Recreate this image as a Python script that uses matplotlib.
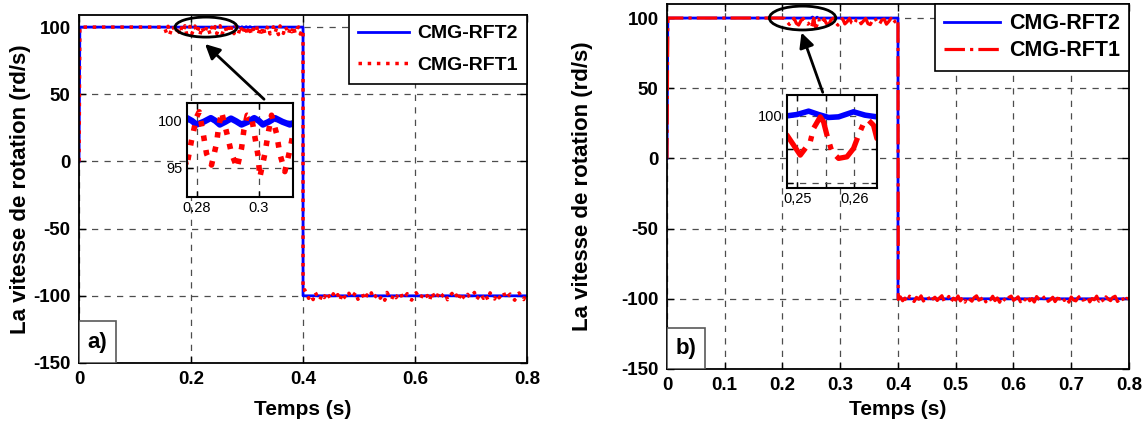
import numpy as np
import matplotlib
matplotlib.use("Agg")
import matplotlib.pyplot as plt
from matplotlib.patches import Ellipse, Rectangle

plt.rcParams['font.family'] = ['Liberation Sans', 'DejaVu Sans']
plt.rcParams['axes.unicode_minus'] = False

# ---------------- shared axis settings ----------------
y_ticks = [-150, -100, -50, 0, 50, 100]
a_x_ticks = [0, 0.2, 0.4, 0.6, 0.8]
b_x_ticks = [0, 0.1, 0.2, 0.3, 0.4, 0.5, 0.6, 0.7, 0.8]
series_names = ["CMG-RFT2", "CMG-RFT1"]
panel_tags = ["a)", "b)"]

# ---------------- panel a) : CMG-RFT2 ----------------
a_rft2_t = [0.0, 0.0015, 0.2740, 0.2768, 0.2784, 0.2799, 0.2822, 0.2845, 0.2860,
            0.2874, 0.2892, 0.2910, 0.2927, 0.2944, 0.2965, 0.2985, 0.3000, 0.3013,
            0.3032, 0.3052, 0.3076, 0.3100, 0.3130, 0.4, 0.4, 0.8]
a_rft2_y = [0.0, 100.0, 100.0, 100.3, 100.0, 99.6, 99.9, 100.3, 100.0,
            99.6, 99.9, 100.25, 99.95, 99.6, 99.9, 100.3, 100.0, 99.6,
            99.9, 100.3, 99.9, 99.6, 100.0, 100.0, -100.0, -100.0]

# ---------------- panel a) : CMG-RFT1 ----------------
a_rft1_start_t = [0.0, 0.0015, 0.150]
a_rft1_start_y = [0.0, 100.0, 100.0]
a_rft1_hi1_t0, a_rft1_hi1_dt = 0.153, 0.003
a_rft1_hi1 = [99.2, 95.8, 100.6, 94.7, 98.3, 100.9, 95.4, 97.2, 100.3, 94.4,
              99.5, 96.6, 101.0, 95.0, 98.0, 100.5, 94.6, 97.7, 100.8, 95.9,
              99.0, 94.3, 100.2, 97.1, 95.2, 100.7, 98.5, 94.8, 99.8, 96.3,
              100.4, 95.1, 98.8, 101.0, 94.5, 97.5, 100.1, 95.6, 99.3, 96.0,
              100.6]
a_rft1_zoom_t = [0.27668, 0.27829, 0.27990, 0.28075, 0.28204, 0.28312, 0.28473,
                 0.28635, 0.28688, 0.28796, 0.29010, 0.29119, 0.29300, 0.29442,
                 0.29516, 0.29623, 0.29765, 0.29871, 0.29978, 0.30032, 0.30194,
                 0.30300, 0.30409, 0.30571, 0.30677, 0.30839, 0.31000, 0.31106]
a_rft1_zoom_y = [95.1, 97.95, 100.4, 100.96, 98.65, 96.5, 95.3,
                 97.6, 99.0, 100.96, 98.1, 96.5, 95.0, 97.1,
                 99.0, 100.6, 100.4, 98.3, 96.2, 94.0, 96.5,
                 98.65, 100.6, 98.65, 96.5, 94.6, 96.9, 98.65]
a_rft1_hi2_t0, a_rft1_hi2_dt = 0.314, 0.003
a_rft1_hi2 = [97.4, 100.8, 94.6, 99.1, 96.2, 100.4, 95.0, 98.6, 101.0, 94.9,
              97.9, 100.2, 95.7, 99.6, 94.4, 100.9, 96.8, 95.3, 100.5, 98.2,
              94.7, 99.4, 96.5, 100.7, 95.2, 98.9, 100.1, 94.8, 97.3]
a_rft1_drop_t = [0.4, 0.4, 0.403]
a_rft1_drop_y = [98.0, -96.0, -95.5]
a_rft1_lo_t0, a_rft1_lo_dt = 0.406, 0.004
a_rft1_lo = [-98.2, -101.9, -99.4, -102.8, -97.6, -100.7, -103.1, -98.9, -101.3, -97.2,
             -100.2, -102.4, -98.5, -101.7, -99.1, -103.4, -97.9, -100.9, -102.1, -98.1,
             -101.5, -99.7, -97.4, -102.6, -100.4, -98.7, -103.0, -99.3, -101.1, -97.8,
             -102.2, -100.0, -98.3, -101.8, -99.6, -103.3, -97.5, -100.6, -102.7, -98.8,
             -101.4, -99.0, -97.3, -102.3, -100.8, -98.4, -101.6, -103.2, -99.5, -97.7,
             -100.3, -102.0, -98.6, -101.2, -99.8, -103.5, -97.1, -100.5, -102.5, -98.0,
             -101.0, -99.2, -97.9, -102.9, -100.1, -98.2, -101.7, -99.4, -103.1, -97.6,
             -100.8, -102.2, -98.9, -101.3, -99.9, -97.5, -102.6, -100.4, -98.4, -101.9,
             -99.1, -103.0, -97.8, -100.6, -102.4, -98.6, -101.5, -99.6, -97.3, -102.1,
             -100.2, -98.7, -101.1, -103.3, -99.3, -97.9, -100.9, -102.8, -98.3]

# ---------------- panel b) : CMG-RFT2 ----------------
b_rft2_t = [0.0, 0.0015, 0.2470, 0.24819, 0.24995, 0.25199, 0.25374, 0.25549,
            0.25725, 0.25988, 0.26193, 0.26398, 0.2660, 0.4, 0.4, 0.8]
b_rft2_y = [0.0, 100.0, 100.0, 100.0, 100.2, 100.7, 100.2, 99.76,
            99.85, 100.6, 100.1, 99.85, 100.0, 100.0, -100.0, -100.0]

# ---------------- panel b) : CMG-RFT1 ----------------
b_rft1_start_t = [0.0, 0.0015, 0.200]
b_rft1_start_y = [0.0, 100.0, 100.0]
b_rft1_hi1_t0, b_rft1_hi1_dt = 0.204, 0.004
b_rft1_hi1 = [99.6, 97.1, 95.4, 98.9, 99.8, 96.2, 95.0, 98.1, 99.7, 96.8, 95.6]
b_rft1_zoom_t = [0.24819, 0.25053, 0.25228, 0.25286, 0.25404, 0.25462, 0.25521,
                 0.25609, 0.25725, 0.25872, 0.25988, 0.26076, 0.26164, 0.26251,
                 0.26339, 0.26398]
b_rft1_zoom_y = [97.13, 94.16, 96.14, 98.13, 99.85, 99.1, 97.13,
                 94.65, 93.67, 93.9, 95.15, 97.13, 98.87, 99.36,
                 98.6, 96.64]
b_rft1_hi2_t0, b_rft1_hi2_dt = 0.268, 0.004
b_rft1_hi2 = [97.0, 99.5, 96.1, 95.2, 98.7, 99.9, 96.6, 94.9, 98.0, 99.6,
              95.8, 97.4, 99.8, 96.3, 95.5, 98.9, 99.4, 95.9, 97.8, 99.7,
              96.0, 95.3, 98.4, 99.9, 96.9, 95.7, 98.6, 99.3, 95.6, 97.5,
              99.8, 96.4, 98.2]
b_rft1_drop_t = [0.4, 0.4005]
b_rft1_drop_y = [99.0, -100.5]
b_rft1_lo_t0, b_rft1_lo_dt = 0.404, 0.004
b_rft1_lo = [-98.6, -101.4, -99.5, -102.1, -98.1, -100.8, -101.9, -99.0, -100.3, -97.9,
             -101.6, -99.8, -98.4, -102.3, -100.1, -98.9, -101.2, -99.3, -97.8, -101.8,
             -100.6, -98.3, -102.0, -99.6, -100.9, -98.0, -101.5, -99.2, -102.4, -98.7,
             -100.4, -101.7, -99.1, -97.9, -101.0, -100.2, -98.5, -102.2, -99.7, -100.7,
             -98.2, -101.3, -99.4, -102.5, -98.8, -100.5, -101.9, -99.0, -98.1, -101.1,
             -100.0, -98.6, -102.1, -99.5, -100.8, -97.9, -101.4, -99.9, -102.3, -98.4,
             -100.3, -101.6, -99.2, -98.0, -101.8, -100.6, -98.9, -102.0, -99.6, -100.1,
             -98.3, -101.2, -99.3, -102.4, -98.7, -100.9, -101.5, -99.1, -97.8, -101.0,
             -100.4, -98.5, -102.2, -99.8, -100.7, -98.1, -101.7, -99.4, -102.1, -98.6,
             -100.2, -101.3, -99.0, -98.2, -101.9, -100.5, -98.8, -102.3, -99.7, -100.0]


def sampled(t0, dt, values):
    """Time stamps of a uniformly sampled stretch of the signal."""
    return [t0 + dt * k for k in range(len(values))]


def assemble(pieces):
    t, y = [], []
    for pt, py in pieces:
        t.extend(pt)
        y.extend(py)
    return np.array(t), np.array(y)


a1_t, a1_y = assemble([
    (a_rft1_start_t, a_rft1_start_y),
    (sampled(a_rft1_hi1_t0, a_rft1_hi1_dt, a_rft1_hi1), a_rft1_hi1),
    (a_rft1_zoom_t, a_rft1_zoom_y),
    (sampled(a_rft1_hi2_t0, a_rft1_hi2_dt, a_rft1_hi2), a_rft1_hi2),
    (a_rft1_drop_t, a_rft1_drop_y),
    (sampled(a_rft1_lo_t0, a_rft1_lo_dt, a_rft1_lo), a_rft1_lo),
])
b1_t, b1_y = assemble([
    (b_rft1_start_t, b_rft1_start_y),
    (sampled(b_rft1_hi1_t0, b_rft1_hi1_dt, b_rft1_hi1), b_rft1_hi1),
    (b_rft1_zoom_t, b_rft1_zoom_y),
    (sampled(b_rft1_hi2_t0, b_rft1_hi2_dt, b_rft1_hi2), b_rft1_hi2),
    (b_rft1_drop_t, b_rft1_drop_y),
    (sampled(b_rft1_lo_t0, b_rft1_lo_dt, b_rft1_lo), b_rft1_lo),
])

BLUE = (0.0, 0.0, 1.0)
RED = (1.0, 0.0, 0.0)
GRID_KW = dict(color='0.3', linestyle=(0, (5, 5)), linewidth=0.9)
BOLD = dict(fontweight='bold')

fig = plt.figure(figsize=(11.47, 4.25), dpi=100)

ax_a = fig.add_axes([0.0689, 0.1459, 0.3906, 0.8188])
ax_b = fig.add_axes([0.5815, 0.1318, 0.4028, 0.8588])


def style_main(ax, xticks, xlabel_y, ylabel_x):
    ax.set_xlim(0, 0.8)
    ax.set_xticks(xticks)
    ax.set_xticklabels([('%g' % v) for v in xticks])
    ax.set_yticks(y_ticks)
    ax.grid(True, **GRID_KW)
    ax.set_axisbelow(True)
    ax.tick_params(direction='in', top=True, right=True, length=5, width=1,
                   labelsize=13.5, pad=6)
    for lab in ax.get_xticklabels() + ax.get_yticklabels():
        lab.set_fontweight('bold')
    for s in ax.spines.values():
        s.set_linewidth(1.3)
    ax.set_xlabel("Temps (s)", fontsize=15, **BOLD)
    ax.set_ylabel("La vitesse de rotation (rd/s)", fontsize=16, **BOLD)
    ax.xaxis.set_label_coords(0.5, xlabel_y)
    ax.yaxis.set_label_coords(ylabel_x, 0.5)


def add_legend(ax, size, spacing, pad):
    leg = ax.legend(loc='upper right', bbox_to_anchor=(1.0, 1.0), borderaxespad=0.0,
                    fancybox=False, framealpha=1, edgecolor='black',
                    prop=dict(weight='bold', size=size),
                    handlelength=2.6, labelspacing=spacing, borderpad=pad,
                    handletextpad=0.4)
    leg.get_frame().set_linewidth(1.2)


# ---- panel a ----
ax_a.plot(a_rft2_t, a_rft2_y, color=BLUE, lw=2.0, label=series_names[0])
ax_a.plot(a1_t, a1_y, color=RED, lw=2.5, linestyle=':', label=series_names[1])
ax_a.set_ylim(-150, 109)
style_main(ax_a, a_x_ticks, -0.105, -0.108)
add_legend(ax_a, 14, 0.72, 0.5)

ax_a.add_patch(Ellipse((0.2268, 100), 0.1107, 14.9, fill=False, lw=2, ec='k',
                       zorder=6, clip_on=False))
ax_a.annotate('', xy=(0.2214, 88.8), xytext=(0.334, 44.9),
              arrowprops=dict(arrowstyle='-|>', lw=2, color='k', mutation_scale=22))
ax_a.add_patch(Rectangle((0, 0), 0.083, 0.12, transform=ax_a.transAxes,
                         fc='white', ec='0.35', lw=1.2, zorder=5))
ax_a.text(0.0415, 0.06, panel_tags[0], transform=ax_a.transAxes, ha='center',
          va='center', fontsize=16, zorder=6, **BOLD)

# ---- panel b ----
ax_b.plot(b_rft2_t, b_rft2_y, color=BLUE, lw=2.0, label=series_names[0])
ax_b.plot(b1_t, b1_y, color=RED, lw=2.3, linestyle='-.', label=series_names[1])
ax_b.set_ylim(-150, 110)
style_main(ax_b, b_x_ticks, -0.085, -0.16)
add_legend(ax_b, 15.5, 0.3, 0.42)

ax_b.add_patch(Ellipse((0.2348, 100), 0.115, 17, fill=False, lw=2, ec='k',
                       zorder=6, clip_on=False))
ax_b.annotate('', xy=(0.2313, 91.5), xytext=(0.2713, 45.2),
              arrowprops=dict(arrowstyle='-|>', lw=2, color='k', mutation_scale=22))
ax_b.add_patch(Rectangle((0, 0), 0.082, 0.112, transform=ax_b.transAxes,
                         fc='white', ec='0.35', lw=1.2, zorder=5))
ax_b.text(0.041, 0.056, panel_tags[1], transform=ax_b.transAxes, ha='center',
          va='center', fontsize=16, zorder=6, **BOLD)


def style_inset(ax):
    ax.grid(True, **GRID_KW)
    ax.set_axisbelow(True)
    ax.tick_params(direction='in', top=True, right=True, length=4, width=1,
                   labelsize=10.5, pad=3)
    for s in ax.spines.values():
        s.set_linewidth(1.5)


# ---- zoom of panel a ----
in_a = fig.add_axes([0.1630, 0.5365, 0.0924, 0.2212])
in_a.plot(a_rft2_t, a_rft2_y, color=BLUE, lw=4.5)
in_a.plot(a1_t, a1_y, color=RED, lw=4.0, linestyle=':')
in_a.set_xlim(0.2768, 0.311)
in_a.set_ylim(91.9, 101.9)
in_a.set_xticks([0.28, 0.3])
in_a.set_xticklabels(['0.28', '0.3'])
in_a.set_yticks([95, 100])
in_a.set_yticklabels(['95', '100'])
style_inset(in_a)

# ---- zoom of panel b ----
in_b = fig.add_axes([0.6861, 0.5576, 0.0785, 0.2188])
in_b.plot(b_rft2_t, b_rft2_y, color=BLUE, lw=4.0)
in_b.plot(b1_t, b1_y, color=RED, lw=3.8, linestyle='-.')
in_b.set_xlim(0.24819, 0.2640)
in_b.set_ylim(89.26, 103.1)
in_b.set_xticks([0.25, 0.255, 0.26])
in_b.set_xticklabels(['0,25', '', '0,26'])
in_b.set_yticks([90, 95, 100])
in_b.set_yticklabels(['', '', '100'])
style_inset(in_b)

fig.savefig("out.png", dpi=100)
